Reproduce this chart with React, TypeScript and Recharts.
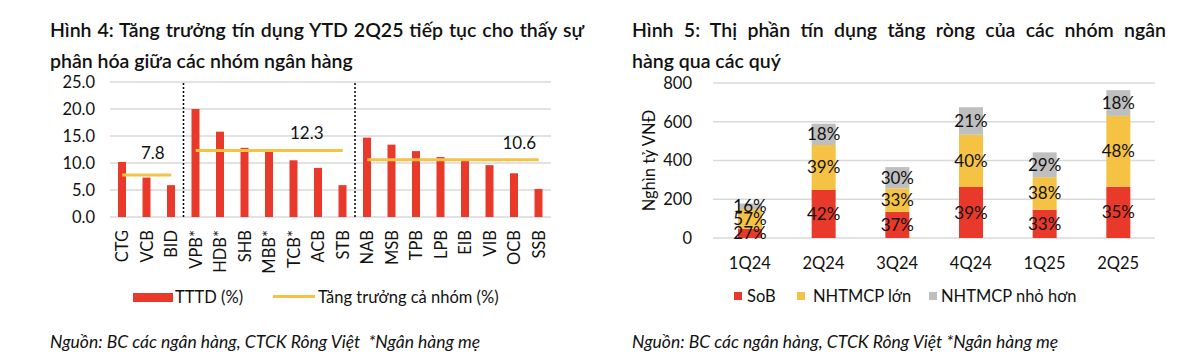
import React from 'react';
import {
  ComposedChart,
  BarChart,
  Bar,
  Line,
  XAxis,
  YAxis,
  CartesianGrid,
  ReferenceLine,
  LabelList,
} from 'recharts';

// ---------- Figure 4 data ----------
const banks = ['CTG', 'VCB', 'BID', 'VPB*', 'HDB*', 'SHB', 'MBB*', 'TCB*', 'ACB', 'STB', 'NAB', 'MSB', 'TPB', 'LPB', 'EIB', 'VIB', 'OCB', 'SSB'];
const creditGrowth = [10.2, 7.3, 5.9, 20.0, 15.8, 12.8, 12.2, 10.5, 9.1, 5.9, 14.7, 13.4, 12.2, 11.1, 10.4, 9.6, 8.1, 5.2];
const bankGroup = [0, 0, 0, 1, 1, 1, 1, 1, 1, 1, 2, 2, 2, 2, 2, 2, 2, 2];
const groupGrowth = [7.8, 12.3, 10.6];
const groupSeparators = ['VPB*', 'NAB'];
const leftTicks = [0, 5, 10, 15, 20, 25];

// ---------- Figure 5 data ----------
const quarters = ['1Q24', '2Q24', '3Q24', '4Q24', '1Q25', '2Q25'];
const sobNet = [48, 249, 135, 263, 146, 265];
const largeNet = [101, 231, 121, 270, 168, 365];
const smallNet = [29, 110, 110, 142, 128, 133];
const sobShare = ['27%', '42%', '37%', '39%', '33%', '35%'];
const largeShare = ['57%', '39%', '33%', '40%', '38%', '48%'];
const smallShare = ['16%', '18%', '30%', '21%', '29%', '18%'];
const rightTicks = [0, 200, 400, 600, 800];

// ---------- styles ----------
const RED = '#E8392B';
const YELLOW = '#F5C244';
const GREY = '#BFBFBF';
const GRID = '#D9D9D9';
const FONT = 'Lato, "Open Sans", sans-serif';
const TEXT = '#111';

// label placement for the group-average lines (style only)
const groupLabelPlacement = [
  { index: 1, dx: 6, dy: -22 },
  { index: 7, dx: 13, dy: -18 },
  { index: 16, dx: 5, dy: -17 },
];

const leftData = banks.map((bank, i) => {
  const row: any = { bank, growth: creditGrowth[i] };
  groupGrowth.forEach((g, gi) => {
    row['g' + gi] = bankGroup[i] === gi ? g : null;
  });
  return row;
});

const rightData = quarters.map((q, i) => ({
  q,
  sob: sobNet[i],
  large: largeNet[i],
  small: smallNet[i],
  sobShare: sobShare[i],
  largeShare: largeShare[i],
  smallShare: smallShare[i],
}));

const RotTick = (props: any) => {
  const { x, y, payload } = props;
  return (
    <text
      x={0}
      y={0}
      transform={`translate(${x},${y}) rotate(-90)`}
      textAnchor="end"
      dy="0.36em"
      fontSize={16.5}
      fill={TEXT}
      fontFamily={FONT}
    >
      {payload.value}
    </text>
  );
};

const makeGroupLabel = (gi: number) => (props: any) => {
  const { x, y, index, value } = props;
  const p = groupLabelPlacement[gi];
  if (index !== p.index || value == null || x == null) return null;
  return (
    <text x={x + p.dx} y={y + p.dy} textAnchor="middle" dominantBaseline="central" fontSize={17} fill={TEXT} fontFamily={FONT}>
      {value}
    </text>
  );
};

const abs = (left: number, top: number, extra: any = {}) => ({ position: 'absolute' as const, left, top, ...extra });

export default function App() {
  const titleStyle = { fontFamily: FONT, fontSize: 19.5, fontWeight: 600, color: TEXT, lineHeight: '30px', whiteSpace: 'nowrap' as const };
  const legendText = { fontFamily: FONT, fontSize: 16.5, color: TEXT, lineHeight: '20px', whiteSpace: 'nowrap' as const };
  const footStyle = { fontFamily: FONT, fontSize: 17.5, fontStyle: 'italic' as const, color: TEXT, lineHeight: '20px', whiteSpace: 'nowrap' as const };
  const labelStyle = { fontSize: 17, fill: TEXT, fontFamily: FONT };

  return (
    <div style={{ position: 'absolute', left: 0, top: 0, width: 1200, height: 361, background: '#fff', overflow: 'hidden' }}>
      {/* Titles */}
      <div style={abs(50, 15, { ...titleStyle, width: 534, textAlign: 'justify', textAlignLast: 'justify' })}>
        Hình 4: Tăng trưởng tín dụng YTD 2Q25 tiếp tục cho thấy sự
      </div>
      <div style={abs(50, 46, titleStyle)}>phân hóa giữa các nhóm ngân hàng</div>
      <div style={abs(632, 15, { ...titleStyle, width: 534, textAlign: 'justify', textAlignLast: 'justify' })}>
        Hình 5: Thị phần tín dụng tăng ròng của các nhóm ngân
      </div>
      <div style={abs(632, 46, titleStyle)}>hàng qua các quý</div>

      {/* Left chart */}
      <div style={abs(0, 0)}>
        <ComposedChart width={600} height={361} data={leftData} margin={{ top: 82, right: 49, bottom: 94, left: 50 }} barCategoryGap={0}>
          <CartesianGrid vertical={false} stroke={GRID} strokeWidth={1.3} />
          <XAxis dataKey="bank" axisLine={false} tickLine={false} interval={0} height={50} tickMargin={7} tick={<RotTick />} />
          <YAxis
            width={60}
            domain={[0, 25]}
            ticks={leftTicks}
            axisLine={false}
            tickLine={false}
            tickMargin={9}
            tickFormatter={(v: number) => v.toFixed(1)}
            tick={{ fontSize: 16.5, fill: TEXT, fontFamily: FONT }}
          />
          {groupSeparators.map((b) => (
            <ReferenceLine key={b} x={b} position="start" stroke="#000" strokeWidth={1.5} strokeDasharray="2 2" />
          ))}
          <Bar dataKey="growth" fill={RED} barSize={8} isAnimationActive={false} />
          {groupGrowth.map((g, gi) => (
            <Line
              key={gi}
              dataKey={'g' + gi}
              stroke={YELLOW}
              strokeWidth={3}
              dot={false}
              activeDot={false}
              connectNulls={false}
              isAnimationActive={false}
            >
              <LabelList dataKey={'g' + gi} content={makeGroupLabel(gi)} />
            </Line>
          ))}
        </ComposedChart>
      </div>

      {/* Right chart */}
      <div style={abs(600, 0)}>
        <BarChart width={600} height={361} data={rightData} margin={{ top: 83, right: 45, bottom: 93, left: 40 }}>
          <CartesianGrid vertical={false} stroke={GRID} strokeWidth={1.3} />
          <XAxis dataKey="q" axisLine={false} tickLine={false} height={30} tickMargin={13} tick={{ fontSize: 16.5, fill: TEXT, fontFamily: FONT }} />
          <YAxis
            width={73}
            domain={[0, 800]}
            ticks={rightTicks}
            axisLine={false}
            tickLine={false}
            tickMargin={15}
            tick={{ fontSize: 16.5, fill: TEXT, fontFamily: FONT }}
            label={{
              value: 'Nghìn tỷ VNĐ',
              angle: -90,
              position: 'insideLeft',
              offset: 9,
              style: { textAnchor: 'middle', fontSize: 16.5, fill: TEXT, fontFamily: FONT },
            }}
          />
          <Bar dataKey="sob" stackId="a" fill={RED} barSize={24} isAnimationActive={false}>
            <LabelList dataKey="sobShare" position="center" style={labelStyle} />
          </Bar>
          <Bar dataKey="large" stackId="a" fill={YELLOW} barSize={24} isAnimationActive={false}>
            <LabelList dataKey="largeShare" position="center" style={labelStyle} />
          </Bar>
          <Bar dataKey="small" stackId="a" fill={GREY} barSize={24} isAnimationActive={false}>
            <LabelList dataKey="smallShare" position="center" style={labelStyle} />
          </Bar>
        </BarChart>
      </div>

      {/* Left legend */}
      <div style={abs(133, 293, { width: 40, height: 9, background: RED })} />
      <div style={abs(175, 287, legendText)}>TTTD (%)</div>
      <div style={abs(273, 295, { width: 42, height: 3, background: YELLOW })} />
      <div style={abs(318, 287, legendText)}>Tăng trưởng cả nhóm (%)</div>

      {/* Right legend */}
      <div style={abs(734, 292, { width: 8, height: 8, background: RED })} />
      <div style={abs(747, 286, legendText)}>SoB</div>
      <div style={abs(797, 292, { width: 8, height: 8, background: YELLOW })} />
      <div style={abs(813, 286, legendText)}>NHTMCP lớn</div>
      <div style={abs(929, 292, { width: 8, height: 8, background: GREY })} />
      <div style={abs(941, 286, legendText)}>NHTMCP nhỏ hơn</div>

      {/* Footers */}
      <div style={abs(50, 332, footStyle)}>Nguồn: BC các ngân hàng, CTCK Rông Việt &nbsp;*Ngân hàng mẹ</div>
      <div style={abs(632, 332, footStyle)}>Nguồn: BC các ngân hàng, CTCK Rông Việt *Ngân hàng mẹ</div>
    </div>
  );
}
